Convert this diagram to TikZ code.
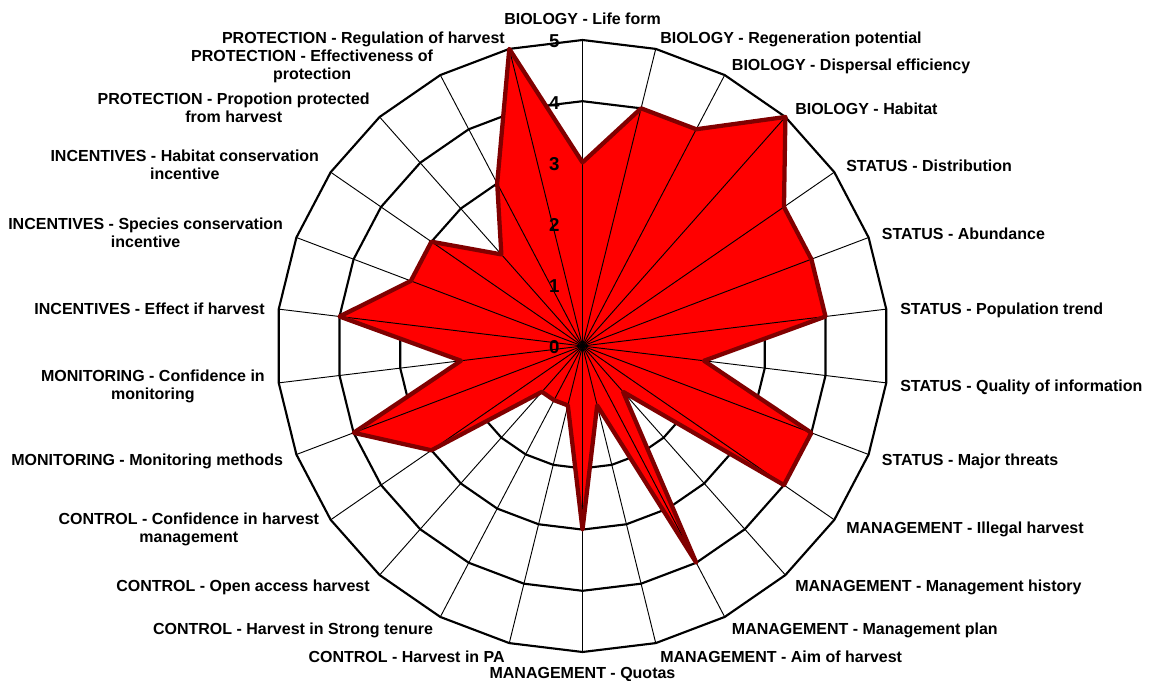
\documentclass[tikz,border=0pt]{standalone}
\usepackage{fontspec}
\setmainfont{Liberation Sans}
\definecolor{fillred}{HTML}{FF0000}
\definecolor{edgered}{HTML}{800000}
\tikzset{
  ringline/.style={draw=black, line width=1.6pt, line join=miter},
  spokeline/.style={draw=black, line width=0.7pt},
  datafill/.style={fill=fillred},
  dataedge/.style={draw=edgered, line width=3.2pt, line join=round},
  catlabel/.style={inner sep=0pt, font=\fontsize{12}{13.5}\selectfont\bfseries, align=center},
  numlabel/.style={inner sep=0pt, anchor=east, font=\fontsize{14}{16}\selectfont\bfseries},
}
\begin{document}
\begin{tikzpicture}[x=0.75pt,y=-0.75pt]
\fill[white] (0,0) rectangle (1153,681);
\useasboundingbox (0,0) rectangle (1153,681);
\begin{scope}[shift={(582.5,346)}]
  \coordinate (c) at (0,0);
  \foreach \i in {0,...,25} \coordinate (o\i) at ({-90+\i*360/26}:306);
  \foreach \k in {1,...,5}
    \draw[ringline] ({-90}:{\k*61.2}) \foreach \i in {1,...,25} { -- ({-90+\i*360/26}:{\k*61.2}) } -- cycle;
  \foreach \v [count=\i from 0] in {3,4,4,5,4,4,4,2,4,4,1,4,1,3,1,1,1,3,4,2,4,3,3,2,3,5}
    \coordinate (d\i) at ({-90+\i*360/26}:{\v*61.2});
  \fill[datafill] (d0) \foreach \i in {1,...,25} { -- (d\i) } -- cycle;
  \foreach \i in {0,...,25} \draw[spokeline] (c) -- (o\i);
  \draw[dataedge] (d0) \foreach \i in {1,...,25} { -- (d\i) } -- cycle;
\end{scope}
\foreach \k in {0,...,5} \node[numlabel] (n\k) at (559.8,{346-\k*61.2+1.5}) {\k};
% right side labels
\node[catlabel, anchor=north] (l1) at (582.5,12.3) {BIOLOGY - Life form};
\node[catlabel, anchor=north west] (l2) at (660,31.8) {BIOLOGY - Regeneration potential};
\node[catlabel, anchor=north west] (l3) at (731.7,58.3) {BIOLOGY - Dispersal efficiency};
\node[catlabel, anchor=north west] (l4) at (795,102.7) {BIOLOGY - Habitat};
\node[catlabel, anchor=north west] (l5) at (846,159.5) {STATUS - Distribution};
\node[catlabel, anchor=north west] (l6) at (881.7,227.3) {STATUS - Abundance};
\node[catlabel, anchor=north west] (l7) at (900,302.5) {STATUS - Population trend};
\node[catlabel, anchor=north west] (l8) at (900,379.5) {STATUS - Quality of information};
\node[catlabel, anchor=north west] (l9) at (881.7,453.5) {STATUS - Major threats};
\node[catlabel, anchor=north west] (l10) at (846,522) {MANAGEMENT - Illegal harvest};
\node[catlabel, anchor=north west] (l11) at (795,580) {MANAGEMENT - Management history};
\node[catlabel, anchor=north west] (l12) at (731.7,622.5) {MANAGEMENT - Management plan};
\node[catlabel, anchor=north west] (l13) at (660,650.5) {MANAGEMENT - Aim of harvest};
\node[catlabel, anchor=north] (l14) at (582.5,667.5) {MANAGEMENT - Quotas};
% left side labels
\node[catlabel, anchor=north east] (l15) at (505,650.5) {CONTROL - Harvest in PA};
\node[catlabel, anchor=north east] (l16) at (433.3,622.5) {CONTROL - Harvest in Strong tenure};
\node[catlabel, anchor=north east] (l17) at (370,580) {CONTROL - Open access harvest};
\node[catlabel, anchor=north east] (l18) at (319.3,513) {CONTROL - Confidence in harvest\\management};
\node[catlabel, anchor=north east] (l19) at (283.3,453.5) {MONITORING - Monitoring methods};
\node[catlabel, anchor=north east] (l20) at (265,370) {MONITORING - Confidence in\\monitoring};
\node[catlabel, anchor=north east] (l21) at (265,302.5) {INCENTIVES - Effect if harvest};
\node[catlabel, anchor=north east] (l22) at (283.3,218) {INCENTIVES - Species conservation\\incentive};
\node[catlabel, anchor=north east] (l23) at (319.3,150) {INCENTIVES - Habitat conservation\\incentive};
\node[catlabel, anchor=north east] (l24) at (370,93) {PROTECTION - Propotion protected\\from harvest};
\node[catlabel, anchor=north east] (l25) at (433.3,50) {PROTECTION - Effectiveness of\\protection};
\node[catlabel, anchor=north east] (l26) at (505,31.8) {PROTECTION - Regulation of harvest};
\end{tikzpicture}
\end{document}
